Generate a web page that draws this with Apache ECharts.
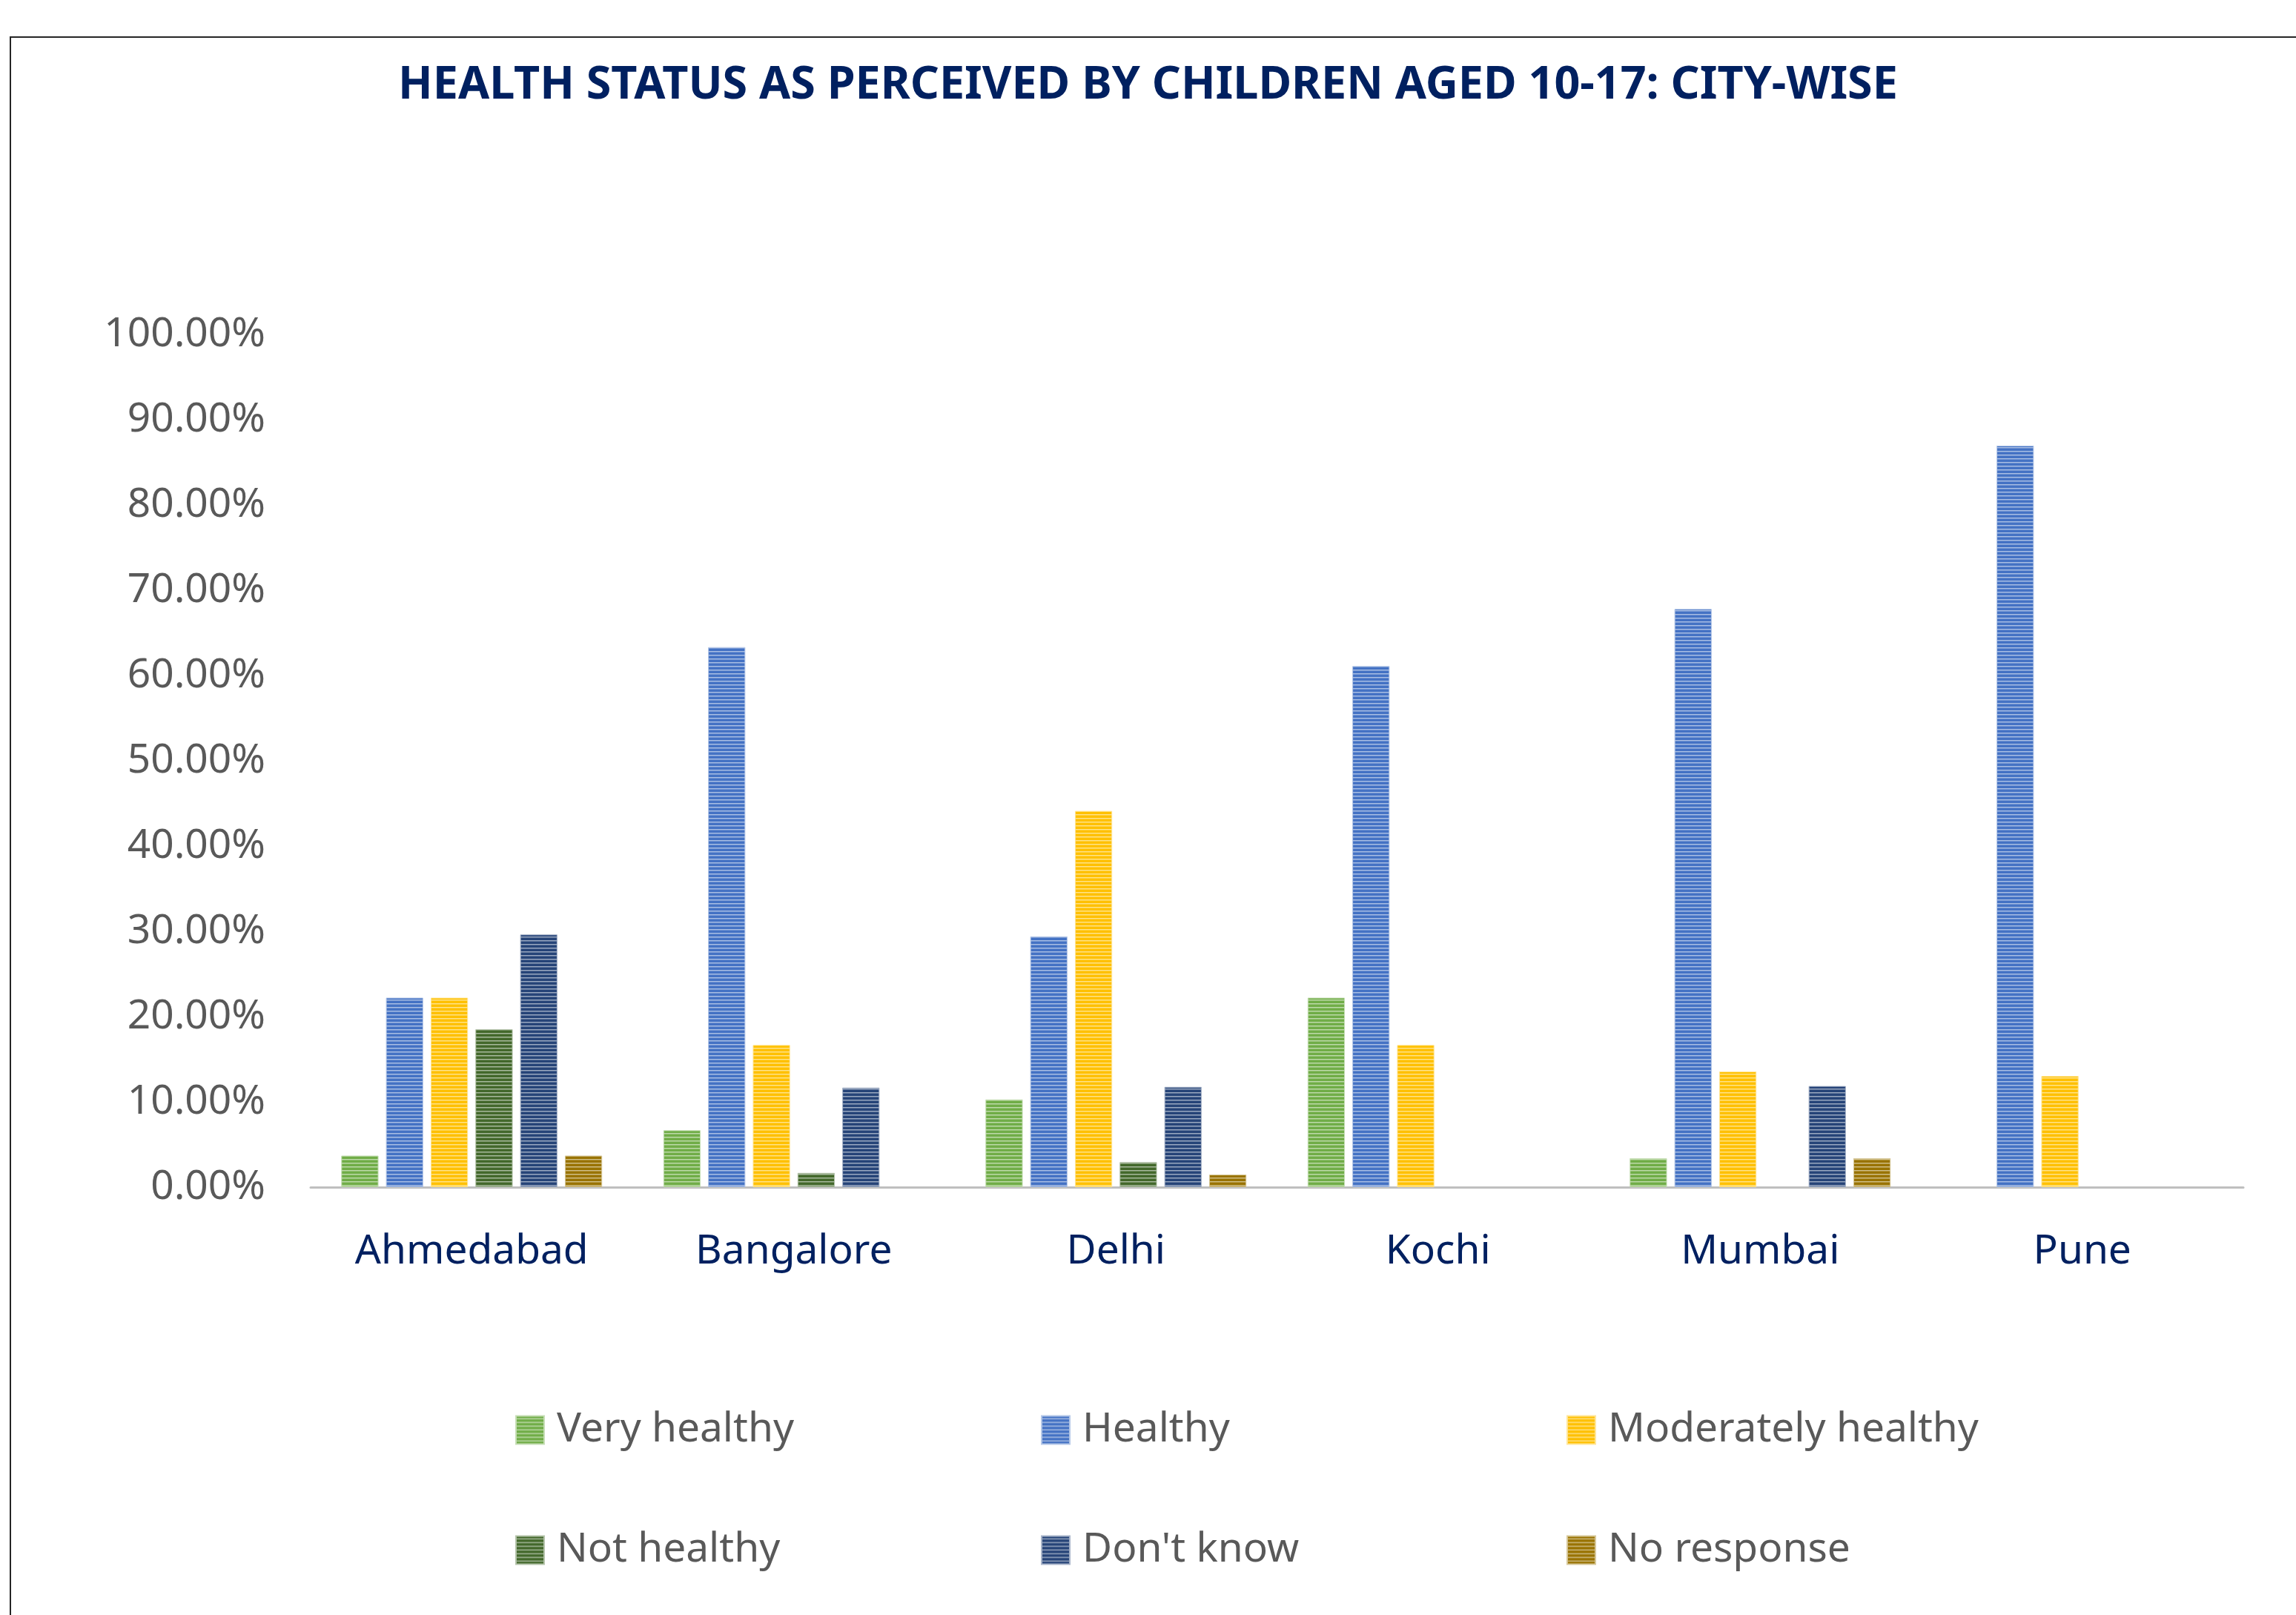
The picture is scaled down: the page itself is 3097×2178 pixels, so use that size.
<!DOCTYPE html>
<html>
<head>
<meta charset="utf-8">
<script src="https://cdn.jsdelivr.net/npm/echarts@6/dist/echarts.min.js"></script>
<style>
html,body{margin:0;padding:0;background:#fff;}
#chart{width:3097px;height:2178px;}
</style>
</head>
<body>
<div id="chart"></div>
<script>
// ---- data ----
var cities = ['Ahmedabad', 'Bangalore', 'Delhi', 'Kochi', 'Mumbai', 'Pune'];
var seriesNames = ['Very healthy', 'Healthy', 'Moderately healthy', 'Not healthy', "Don't know", 'No response'];
var veryHealthy = [3.70, 6.67, 10.29, 22.22, 3.39, null];
var healthy = [22.22, 63.33, 29.41, 61.11, 67.80, 86.96];
var moderatelyHealthy = [22.22, 16.67, 44.12, 16.67, 13.56, 13.04];
var notHealthy = [18.52, 1.67, 2.94, null, null, null];
var dontKnow = [29.63, 11.67, 11.76, null, 11.86, null];
var noResponse = [3.70, null, 1.47, null, 3.39, null];
var yTicks = [0, 10, 20, 30, 40, 50, 60, 70, 80, 90, 100];

var seriesValues = [veryHealthy, healthy, moderatelyHealthy, notHealthy, dontKnow, noResponse];
var baseColors = ['#70AD47', '#4472C4', '#FFC000', '#43682B', '#264478', '#997300'];

function mix(hex, t) {
  var r = parseInt(hex.substr(1, 2), 16), g = parseInt(hex.substr(3, 2), 16), b = parseInt(hex.substr(5, 2), 16);
  r = Math.round(r + (255 - r) * t); g = Math.round(g + (255 - g) * t); b = Math.round(b + (255 - b) * t);
  return 'rgb(' + r + ',' + g + ',' + b + ')';
}
function stripe(hex) {
  var c = document.createElement('canvas');
  c.width = 8; c.height = 5;
  var ctx = c.getContext('2d');
  ctx.fillStyle = hex; ctx.fillRect(0, 0, 8, 5);
  ctx.fillStyle = mix(hex, 0.55); ctx.fillRect(0, 3, 8, 1);
  ctx.fillStyle = mix(hex, 0.25); ctx.fillRect(0, 4, 8, 1);
  return { image: c, repeat: 'repeat' };
}

var FONT = '"Noto Sans", "Open Sans", sans-serif';
var chart = echarts.init(document.getElementById('chart'), null, { renderer: 'canvas' });

var series = seriesNames.map(function (name, i) {
  return {
    name: name,
    type: 'bar',
    data: seriesValues[i],
    barGap: '20%',
    barCategoryGap: '19%',
    itemStyle: { color: stripe(baseColors[i]), borderColor: mix(baseColors[i], 0.6), borderWidth: 1 },
    emphasis: { disabled: true },
    silent: true
  };
});

var legendX = [695, 1404, 2113];
var legendY = [1901, 2063];
var legends = seriesNames.map(function (name, i) {
  return {
    data: [name],
    left: legendX[i % 3],
    top: legendY[Math.floor(i / 3)],
    icon: 'rect',
    itemWidth: 38,
    itemHeight: 38,
    itemGap: 0,
    padding: 0,
    selectedMode: false,
    textStyle: { fontFamily: FONT, fontSize: 55, color: '#595959', padding: [0, 0, 0, 12] }
  };
});

chart.setOption({
  backgroundColor: '#ffffff',
  animation: false,
  title: {
    text: 'HEALTH STATUS AS PERCEIVED BY CHILDREN AGED 10-17: CITY-WISE',
    left: 'center',
    top: 80,
    textStyle: { fontFamily: FONT, fontWeight: 'bold', fontSize: 61, color: '#002060' }
  },
  legend: legends,
  grid: { left: 419, right: 71, top: 451, bottom: 577, containLabel: false },
  xAxis: {
    type: 'category',
    data: cities,
    axisLine: { show: true, lineStyle: { color: '#BFBFBF', width: 3 } },
    axisTick: { show: false },
    axisLabel: { fontFamily: FONT, fontSize: 55, color: '#002060', margin: 60 },
    splitLine: { show: false }
  },
  yAxis: {
    type: 'value',
    min: yTicks[0],
    max: yTicks[yTicks.length - 1],
    interval: yTicks[1] - yTicks[0],
    axisLine: { show: false },
    axisTick: { show: false },
    splitLine: { show: false },
    axisLabel: {
      fontFamily: FONT, fontSize: 55, color: '#595959', margin: 61,
      formatter: function (v) { return v.toFixed(2) + '%'; }
    }
  },
  graphic: [{
    type: 'rect',
    shape: { x: 14, y: 50, width: 4000, height: 4000 },
    style: { fill: 'none', stroke: '#262626', lineWidth: 2 },
    silent: true
  }],
  series: series
});
</script>
</body>
</html>
